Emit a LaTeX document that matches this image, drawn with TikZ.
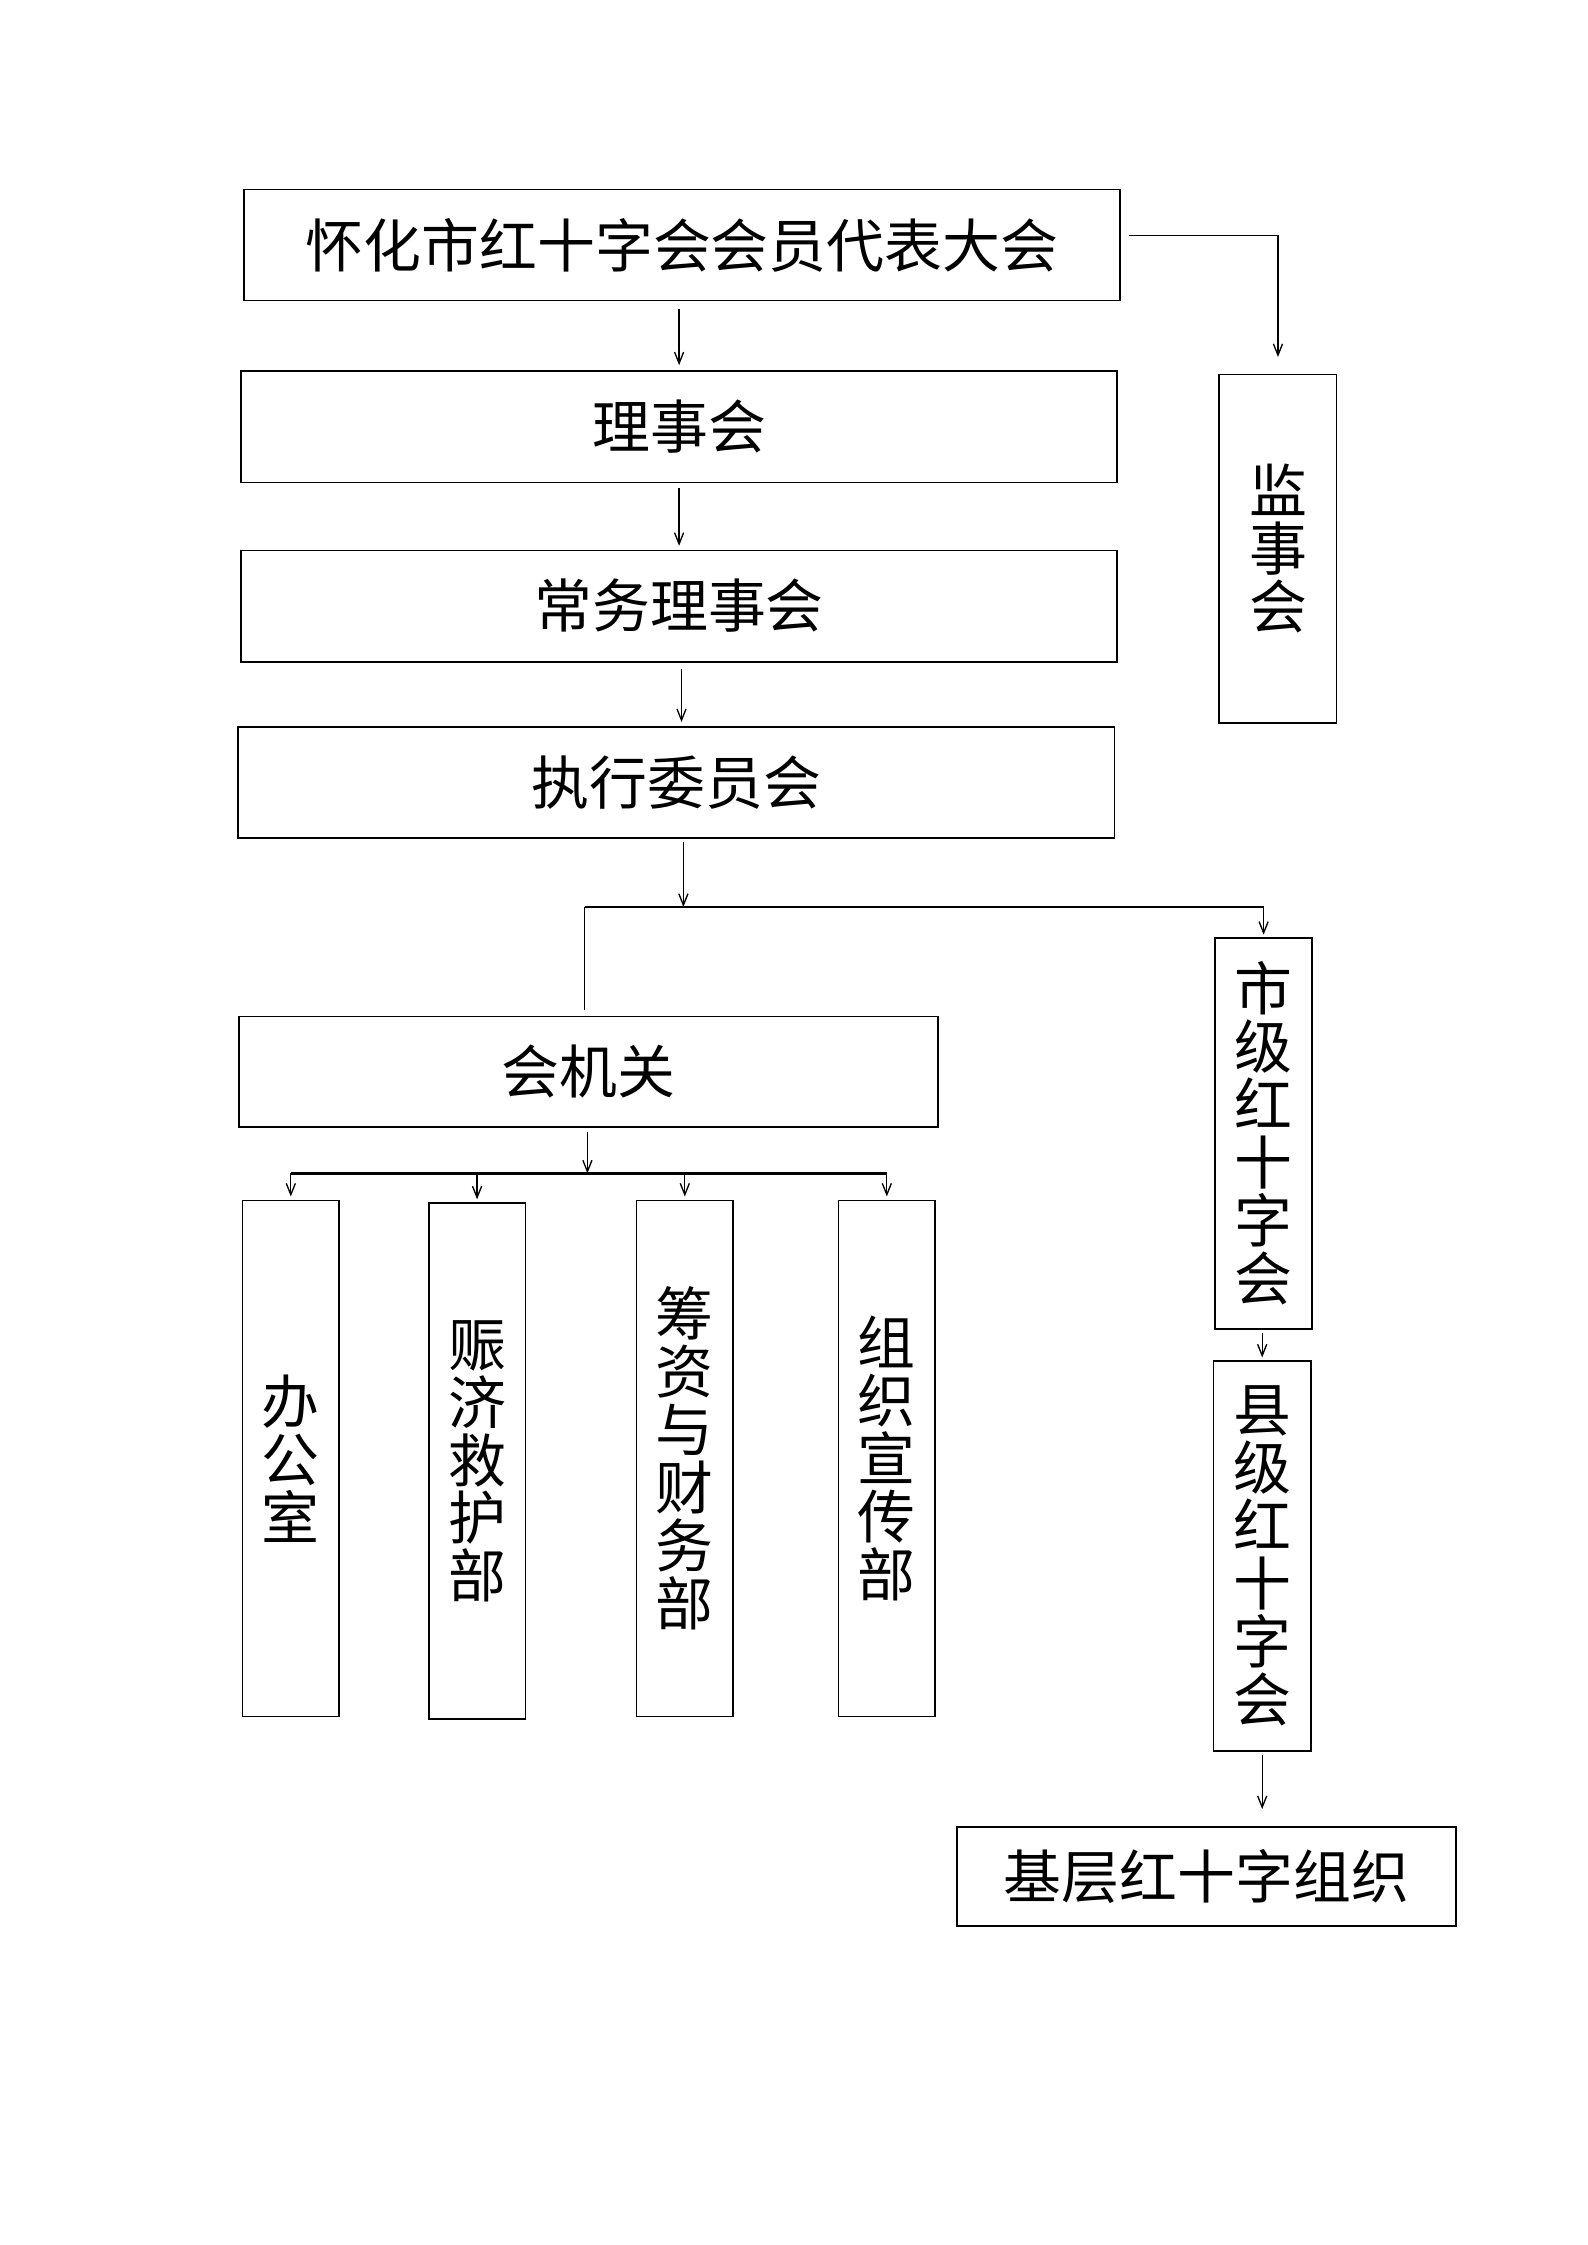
\documentclass[tikz,border=0pt]{standalone}
\usepackage{fontspec}
\newfontfamily\cjk{Noto Sans CJK SC}
\usetikzlibrary{positioning,calc,arrows.meta}

\tikzset{
  box/.style={draw,rectangle,line width=0.7pt,inner sep=0pt,align=center,
    font=\cjk\fontsize{21.8pt}{21.8pt}\selectfont},
  wide/.style={box,minimum width=116mm,minimum height=14.7mm},
  tall/.style={box,minimum width=12.8mm,minimum height=68.3mm},
  arr/.style={-{Straight Barb[length=1.5mm,width=1.2mm]},line width=0.5pt},
  bus/.style={line width=0.9pt}
}

\begin{document}
\begin{tikzpicture}[x=0.1896mm,y=-0.1896mm]
    \useasboundingbox (0,0) rectangle (1108,1567);

    % main chain
    \node[wide] (dahui) at (476,171) {怀化市红十字会会员代表大会};
    \node[wide] (lishi) at (474,298) {理事会};
    \node[wide] (changwu) at (474,423) {常务理事会};
    \node[wide] (zhixing) at (472,546) {执行委员会};
    \node[box,minimum width=15.5mm,minimum height=46.1mm] (jianshi) at (892,383) {监\\事\\会};

    \draw[arr,shorten >=0.7mm] ([yshift=-1mm]lishi.north |- dahui.south) -- (lishi.north);
    \draw[arr,shorten >=0.5mm] ([yshift=-0.6mm]changwu.north |- lishi.south) -- (changwu.north);
    \draw[arr,shorten >=0.5mm] ([xshift=0.7mm,yshift=-0.8mm]zhixing.north |- changwu.south) -- ([xshift=0.7mm]zhixing.north);
    \draw[arr,shorten >=2.2mm] ([xshift=1.1mm,yshift=1.3mm]dahui.east) -| (jianshi.north);

    % office and departments
    \node[box,minimum width=92.5mm,minimum height=14.6mm] (jiguan) at (411,748) {会机关};
    \node[tall] (bangong) at (203,1018) {办\\公\\室};
    \node[tall] (zhenji) at (333,1020) {赈\\济\\救\\护\\部};
    \node[tall] (chouzi) at (478,1018) {筹\\资\\与\\财\\务\\部};
    \node[tall] (zuzhi) at (619,1018) {组\\织\\宣\\传\\部};

    % red cross branches
    \node[box,minimum width=12.9mm,minimum height=51.7mm] (shiji) at (882,791) {市\\级\\红\\十\\字\\会};
    \node[box,minimum width=12.9mm,minimum height=51.7mm] (xianji) at (881,1086) {县\\级\\红\\十\\字\\会};
    \node[box,minimum width=66.1mm,minimum height=13.1mm] (jiceng) at (842,1310) {基层红十字组织};

    \coordinate (fork) at (477,633);
    \coordinate (forkL) at (408,633);
    \coordinate (forkR) at (882,633);
    \draw[arr] ([yshift=-0.4mm]fork |- zhixing.south) -- (fork);
    \draw[bus] (forkL) -- (forkR);
    \draw[line width=0.5pt,shorten >=0.8mm] (forkL) -- (forkL |- jiguan.north);
    \draw[arr,shorten >=0.3mm] (forkR) -- (shiji.north);

    \coordinate (sub) at (410,819);
    \draw[arr] ([yshift=-0.6mm]sub |- jiguan.south) -- (sub);
    \draw[bus] (bangong.north |- sub) -- (zuzhi.north |- sub);
    \foreach \d in {bangong,zhenji,chouzi,zuzhi}
        \draw[arr,shorten >=0.4mm] (\d.north |- sub) -- (\d.north);

    \draw[arr,shorten >=0.3mm] ([yshift=-0.4mm]xianji.north |- shiji.south) -- (xianji.north);
    \draw[arr,shorten >=2.3mm] ([yshift=-0.4mm]xianji.south) -- (xianji.south |- jiceng.north);
\end{tikzpicture}
\end{document}
